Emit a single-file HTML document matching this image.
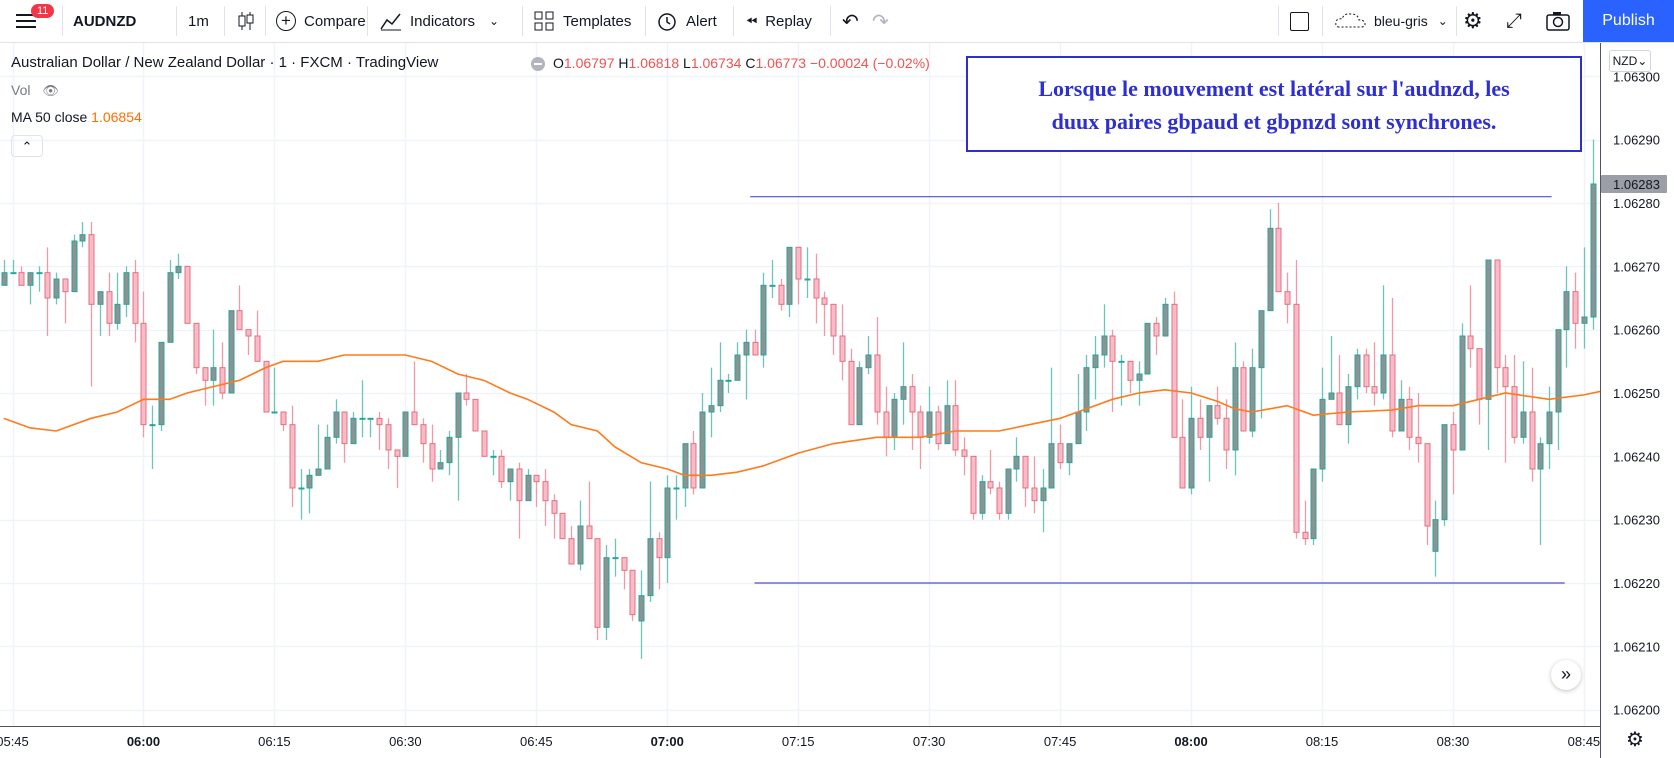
<!DOCTYPE html>
<html><head><meta charset="utf-8">
<style>
html,body{margin:0;padding:0;background:#fff;width:1674px;height:758px;overflow:hidden;font-family:"Liberation Sans",sans-serif;color:#131722}
#toolbar{position:absolute;left:0;top:0;width:1674px;height:42px;border-bottom:1px solid #e0e3eb;background:#fff}
.tb{position:absolute;top:0;height:42px;display:flex;align-items:center;font-size:15px;color:#131722}
.sep{position:absolute;top:6px;width:1px;height:30px;background:#e0e3eb}
#chart{position:absolute;left:0;top:0}
.leg{position:absolute;font-size:14px;white-space:nowrap}
#note{position:absolute;left:966px;top:56px;width:616px;height:96px;border:2px solid #2d2fd0;background:#fff;color:#2d2fd0;font-family:"Liberation Serif",serif;font-weight:bold;font-size:22px;text-align:center;line-height:33px;padding-top:14px;box-sizing:border-box}
</style></head><body>
<div id="toolbar">
  <div class="tb" style="left:16px">
    <svg width="22" height="18"><rect x="0" y="2" width="20" height="2" fill="#131722"/><rect x="0" y="8" width="20" height="2" fill="#131722"/><rect x="0" y="14" width="20" height="2" fill="#131722"/></svg>
  </div>
  <div style="position:absolute;left:31px;top:4px;background:#f23645;color:#fff;font-size:11px;border-radius:9px;padding:1px 6px">11</div>
  <div class="sep" style="left:62px"></div>
  <div class="tb" style="left:73px;font-weight:bold">AUDNZD</div>
  <div class="sep" style="left:176px"></div>
  <div class="tb" style="left:188px">1m</div>
  <div class="sep" style="left:224px"></div>
  <div class="tb" style="left:236px"><svg width="20" height="22"><line x1="6" y1="2" x2="6" y2="20" stroke="#131722"/><rect x="3" y="6" width="6" height="10" fill="#fff" stroke="#131722"/><line x1="14" y1="2" x2="14" y2="20" stroke="#131722"/><rect x="11" y="5" width="6" height="8" fill="#fff" stroke="#131722"/></svg></div>
  <div class="sep" style="left:265px"></div>
  <div class="tb" style="left:276px"><span style="display:inline-block;width:18px;height:18px;border:1.5px solid #131722;border-radius:50%;text-align:center;line-height:18px;font-size:17px;margin-right:8px">+</span>Compare</div>
  <div class="sep" style="left:367px"></div>
  <div class="tb" style="left:380px"><svg width="22" height="20" style="margin-right:8px"><polyline points="1,18 7,9 12,13 20,3" fill="none" stroke="#131722" stroke-width="1.5"/><line x1="1" y1="19" x2="21" y2="19" stroke="#131722"/></svg>Indicators<span style="margin-left:14px;font-size:12px">&#x2304;</span></div>
  <div class="sep" style="left:522px"></div>
  <div class="tb" style="left:534px"><svg width="20" height="20" style="margin-right:9px"><rect x="1" y="1" width="7" height="7" fill="none" stroke="#131722"/><rect x="12" y="1" width="7" height="7" fill="none" stroke="#131722"/><rect x="1" y="12" width="7" height="7" fill="none" stroke="#131722"/><rect x="12" y="12" width="7" height="7" fill="none" stroke="#131722"/></svg>Templates</div>
  <div class="sep" style="left:645px"></div>
  <div class="tb" style="left:656px"><svg width="22" height="22" style="margin-right:8px"><circle cx="11" cy="12" r="8" fill="none" stroke="#131722" stroke-width="1.5"/><polyline points="11,7 11,12 14,14" fill="none" stroke="#131722" stroke-width="1.5"/></svg>Alert</div>
  <div class="sep" style="left:733px"></div>
  <div class="tb" style="left:746px"><span style="font-size:14px;margin-right:8px">&#x23EA;&#xFE0E;</span>Replay</div>
  <div class="sep" style="left:830px"></div>
  <div class="tb" style="left:842px;font-size:20px">&#x21B6;</div>
  <div class="tb" style="left:872px;font-size:20px;color:#b2b5be">&#x21B7;</div>
  <div class="sep" style="left:1278px"></div>
  <div class="tb" style="left:1290px"><span style="display:inline-block;width:17px;height:17px;border:1.5px solid #131722;border-radius:2px"></span></div>
  <div class="sep" style="left:1322px"></div>
  <div class="tb" style="left:1334px;font-size:14px"><svg width="34" height="20" style="margin-right:6px"><path d="M5 16 Q1 16 2 11 Q3 7 8 8 Q10 2 17 3 Q24 3 25 9 Q31 9 31 13 Q31 16 27 16 Z" fill="none" stroke="#131722" stroke-dasharray="2 2"/></svg>bleu-gris<span style="margin-left:10px;font-size:12px">&#x2304;</span></div>
  <div class="sep" style="left:1456px"></div>
  <div class="tb" style="left:1463px;font-size:22px">&#x2699;</div>
  <div class="tb" style="left:1506px;font-size:20px">&#x2922;</div>
  <div class="tb" style="left:1546px"><svg width="24" height="20"><rect x="1" y="4" width="22" height="15" rx="2" fill="none" stroke="#131722" stroke-width="1.5"/><circle cx="12" cy="11" r="4.5" fill="none" stroke="#131722" stroke-width="1.5"/><rect x="7" y="1" width="8" height="3" fill="#131722"/></svg></div>
  <div style="position:absolute;left:1583px;top:0;width:91px;height:42px;background:#2962ff;color:#fff;font-size:16px;line-height:42px;text-align:center">Publish</div>
</div>

<svg id="chart" width="1674" height="758"></svg>

<div class="leg" style="left:11px;top:54px;font-size:15px">Australian Dollar / New Zealand Dollar · 1 · FXCM · TradingView</div>
<div style="position:absolute;left:531px;top:57px;width:14px;height:14px;border-radius:50%;background:#b2b5be"><div style="position:absolute;left:3px;top:6px;width:8px;height:2px;background:#fff"></div></div>
<div class="leg" style="left:553px;top:55px"><span>O</span><span style="color:#ef5350">1.06797</span> <span>H</span><span style="color:#ef5350">1.06818</span> <span>L</span><span style="color:#ef5350">1.06734</span> <span>C</span><span style="color:#ef5350">1.06773 −0.00024 (−0.02%)</span></div>
<div class="leg" style="left:11px;top:82px;color:#787b86">Vol <span style="margin-left:8px;font-size:13px">&#x1F441;&#xFE0E;</span></div>
<div class="leg" style="left:11px;top:109px">MA 50 close <span style="color:#ff6d00">1.06854</span></div>
<div style="position:absolute;left:11px;top:135px;width:30px;height:20px;border:1px solid #e0e3eb;border-radius:4px;text-align:center;font-size:13px;line-height:22px">&#x2303;</div>
<div id="note">Lorsque le mouvement est latéral sur l'audnzd, les<br>duux paires gbpaud et gbpnzd sont synchrones.</div>
<div style="position:absolute;left:1609px;top:50px;width:40px;height:20px;border:1px solid #d1d4dc;border-radius:3px;font-size:12px;line-height:20px;text-align:center;background:#fff">NZD&#x2304;</div>
<div style="position:absolute;left:1551px;top:660px;width:30px;height:30px;border-radius:50%;background:#fff;box-shadow:0 1px 4px rgba(0,0,0,.25);text-align:center;line-height:28px;font-size:18px">&#x00BB;</div>
<div style="position:absolute;left:1626px;top:727px;font-size:20px">&#x2699;</div>

<script>
const firstIndex = -1;
const opens  = [1.06267,1.06269,1.06269,1.06267,1.06269,1.06269,1.06265,1.06268,1.06266,1.06274,1.06275,1.06264,1.06266,1.06261,1.06264,1.06269,1.06261,1.06245,1.06245,1.06258,1.06269,1.06270,1.06261,1.06254,1.06252,1.06254,1.06250,1.06263,1.06260,1.06259,1.06255,1.06247,1.06247,1.06245,1.06235,1.06235,1.06237,1.06238,1.06243,1.06247,1.06242,1.06246,1.06246,1.06246,1.06245,1.06241,1.06240,1.06247,1.06245,1.06242,1.06238,1.06239,1.06243,1.06250,1.06249,1.06244,1.06240,1.06240,1.06236,1.06238,1.06233,1.06237,1.06236,1.06233,1.06231,1.06227,1.06223,1.06229,1.06227,1.06213,1.06224,1.06224,1.06222,1.06214,1.06218,1.06227,1.06224,1.06235,1.06235,1.06242,1.06235,1.06247,1.06248,1.06252,1.06252,1.06256,1.06258,1.06256,1.06267,1.06267,1.06264,1.06273,1.06268,1.06268,1.06265,1.06264,1.06259,1.06255,1.06245,1.06254,1.06256,1.06247,1.06243,1.06249,1.06251,1.06247,1.06243,1.06247,1.06242,1.06248,1.06241,1.06240,1.06231,1.06236,1.06235,1.06231,1.06238,1.06240,1.06235,1.06233,1.06235,1.06242,1.06239,1.06242,1.06247,1.06254,1.06256,1.06259,1.06255,1.06255,1.06252,1.06253,1.06261,1.06259,1.06264,1.06243,1.06235,1.06246,1.06243,1.06248,1.06246,1.06241,1.06254,1.06244,1.06254,1.06263,1.06276,1.06266,1.06264,1.06228,1.06227,1.06238,1.06249,1.06250,1.06245,1.06251,1.06256,1.06251,1.06250,1.06256,1.06244,1.06249,1.06243,1.06242,1.06225,1.06230,1.06245,1.06241,1.06259,1.06257,1.06249,1.06271,1.06254,1.06251,1.06243,1.06247,1.06238,1.06242,1.06247,1.06260,1.06266,1.06261,1.06262];
const highs  = [1.06271,1.06271,1.06270,1.06269,1.06270,1.06273,1.06269,1.06268,1.06275,1.06277,1.06277,1.06266,1.06269,1.06269,1.06270,1.06271,1.06266,1.06248,1.06258,1.06271,1.06272,1.06270,1.06261,1.06254,1.06260,1.06258,1.06263,1.06267,1.06260,1.06263,1.06255,1.06254,1.06247,1.06248,1.06238,1.06238,1.06245,1.06245,1.06249,1.06247,1.06247,1.06252,1.06246,1.06247,1.06246,1.06241,1.06247,1.06255,1.06246,1.06245,1.06241,1.06244,1.06250,1.06253,1.06249,1.06244,1.06241,1.06241,1.06238,1.06239,1.06238,1.06237,1.06238,1.06234,1.06231,1.06229,1.06233,1.06236,1.06227,1.06226,1.06227,1.06224,1.06222,1.06222,1.06236,1.06228,1.06237,1.06237,1.06242,1.06244,1.06250,1.06254,1.06258,1.06253,1.06258,1.06260,1.06260,1.06269,1.06271,1.06268,1.06273,1.06273,1.06273,1.06272,1.06266,1.06264,1.06264,1.06257,1.06255,1.06259,1.06262,1.06251,1.06250,1.06258,1.06253,1.06248,1.06251,1.06248,1.06252,1.06252,1.06243,1.06240,1.06237,1.06241,1.06236,1.06238,1.06243,1.06240,1.06240,1.06238,1.06254,1.06245,1.06242,1.06253,1.06256,1.06259,1.06264,1.06260,1.06256,1.06255,1.06255,1.06261,1.06262,1.06265,1.06266,1.06249,1.06251,1.06249,1.06248,1.06251,1.06249,1.06258,1.06255,1.06257,1.06263,1.06279,1.06280,1.06269,1.06271,1.06233,1.06238,1.06254,1.06259,1.06256,1.06253,1.06257,1.06257,1.06258,1.06267,1.06265,1.06252,1.06251,1.06250,1.06242,1.06233,1.06245,1.06247,1.06261,1.06267,1.06257,1.06271,1.06271,1.06256,1.06256,1.06255,1.06254,1.06243,1.06251,1.06260,1.06270,1.06269,1.06273,1.06290];
const lows   = [1.06267,1.06269,1.06267,1.06264,1.06266,1.06259,1.06264,1.06261,1.06266,1.06273,1.06251,1.06259,1.06259,1.06260,1.06262,1.06258,1.06243,1.06238,1.06244,1.06258,1.06268,1.06261,1.06253,1.06248,1.06248,1.06249,1.06250,1.06260,1.06256,1.06255,1.06247,1.06247,1.06244,1.06232,1.06230,1.06231,1.06237,1.06238,1.06242,1.06239,1.06242,1.06243,1.06243,1.06241,1.06238,1.06235,1.06240,1.06245,1.06239,1.06236,1.06238,1.06237,1.06233,1.06248,1.06244,1.06240,1.06237,1.06235,1.06233,1.06227,1.06233,1.06232,1.06229,1.06227,1.06227,1.06223,1.06222,1.06227,1.06211,1.06211,1.06221,1.06219,1.06214,1.06208,1.06217,1.06219,1.06220,1.06230,1.06232,1.06234,1.06235,1.06243,1.06247,1.06250,1.06252,1.06249,1.06256,1.06254,1.06265,1.06263,1.06262,1.06264,1.06265,1.06261,1.06259,1.06256,1.06252,1.06245,1.06245,1.06253,1.06245,1.06240,1.06241,1.06245,1.06241,1.06238,1.06242,1.06241,1.06242,1.06240,1.06237,1.06230,1.06230,1.06234,1.06230,1.06230,1.06236,1.06232,1.06231,1.06228,1.06235,1.06238,1.06237,1.06242,1.06244,1.06249,1.06254,1.06247,1.06248,1.06250,1.06248,1.06253,1.06256,1.06259,1.06243,1.06235,1.06234,1.06241,1.06236,1.06245,1.06238,1.06237,1.06244,1.06243,1.06246,1.06263,1.06266,1.06261,1.06227,1.06226,1.06226,1.06236,1.06249,1.06245,1.06242,1.06249,1.06250,1.06248,1.06249,1.06243,1.06244,1.06241,1.06239,1.06226,1.06221,1.06229,1.06234,1.06241,1.06254,1.06245,1.06241,1.06250,1.06239,1.06242,1.06242,1.06236,1.06226,1.06238,1.06241,1.06254,1.06257,1.06257,1.06260];
const closes = [1.06269,1.06269,1.06267,1.06269,1.06269,1.06265,1.06268,1.06266,1.06274,1.06275,1.06264,1.06266,1.06261,1.06264,1.06269,1.06261,1.06245,1.06245,1.06258,1.06269,1.06270,1.06261,1.06254,1.06252,1.06254,1.06250,1.06263,1.06260,1.06259,1.06255,1.06247,1.06247,1.06245,1.06235,1.06235,1.06237,1.06238,1.06243,1.06247,1.06242,1.06246,1.06246,1.06246,1.06245,1.06241,1.06240,1.06247,1.06245,1.06242,1.06238,1.06239,1.06243,1.06250,1.06249,1.06244,1.06240,1.06240,1.06236,1.06238,1.06233,1.06237,1.06236,1.06233,1.06231,1.06227,1.06223,1.06229,1.06227,1.06213,1.06224,1.06224,1.06222,1.06215,1.06218,1.06227,1.06224,1.06235,1.06235,1.06242,1.06235,1.06247,1.06248,1.06252,1.06252,1.06256,1.06258,1.06256,1.06267,1.06267,1.06264,1.06273,1.06268,1.06268,1.06265,1.06264,1.06259,1.06255,1.06245,1.06254,1.06256,1.06247,1.06243,1.06249,1.06251,1.06247,1.06243,1.06247,1.06242,1.06248,1.06241,1.06240,1.06231,1.06236,1.06235,1.06231,1.06238,1.06240,1.06235,1.06233,1.06235,1.06242,1.06239,1.06242,1.06247,1.06254,1.06256,1.06259,1.06255,1.06255,1.06252,1.06253,1.06261,1.06259,1.06264,1.06243,1.06235,1.06246,1.06243,1.06248,1.06246,1.06241,1.06254,1.06244,1.06254,1.06263,1.06276,1.06266,1.06264,1.06228,1.06227,1.06238,1.06249,1.06250,1.06245,1.06251,1.06256,1.06251,1.06250,1.06256,1.06244,1.06249,1.06243,1.06242,1.06229,1.06230,1.06245,1.06241,1.06259,1.06257,1.06249,1.06271,1.06254,1.06251,1.06243,1.06247,1.06238,1.06242,1.06247,1.06260,1.06266,1.06261,1.06262,1.06283];
const maIdx = [-1,2,5,9,12,15,18,20,23,26,29,31,35,38,42,45,48,51,54,57,59,62,64,67,69,72,75,77,80,83,86,90,94,99,104,108,113,120,123,126,129,132,135,138,140,142,146,149,153,158,161,165,168,171,176,180,182];
const maVals = [1.06246,1.062445,1.06244,1.06246,1.06247,1.06249,1.06249,1.0625,1.06251,1.06252,1.06254,1.06255,1.06255,1.06256,1.06256,1.06256,1.06255,1.06253,1.06252,1.0625,1.06249,1.06247,1.06245,1.06244,1.062415,1.06239,1.06238,1.06237,1.06237,1.062375,1.062385,1.062405,1.06242,1.06243,1.06243,1.06244,1.06244,1.06246,1.062475,1.06249,1.0625,1.062505,1.0625,1.062487,1.062475,1.06247,1.06248,1.062465,1.06247,1.062473,1.06248,1.06248,1.06249,1.0625,1.06249,1.062497,1.062503];
const priceTicks = [1.06300,1.06290,1.06280,1.06270,1.06260,1.06250,1.06240,1.06230,1.06220,1.06210,1.06200];
const timeTicks = ["05:45","06:00","06:15","06:30","06:45","07:00","07:15","07:30","07:45","08:00","08:15","08:30","08:45"];
const boldTicks = ["06:00","07:00","08:00"];
const lastPrice = 1.06283;
const rangeTop = [1.06281, 84.5, 176.3];
const rangeBottom = [1.06220, 85, 177.8];

const svg = document.getElementById('chart');
const NS = 'http://www.w3.org/2000/svg';
const PLOT_R = 1600, PLOT_T = 43, PLOT_B = 726;
function yOf(p){ return 203 + (1.0628 - p) * 633300; }
function xOf(i){ return 12.5 + 8.73 * i; }
function mk(tag, attrs){ const e = document.createElementNS(NS, tag); for (const k in attrs) e.setAttribute(k, attrs[k]); svg.appendChild(e); return e; }

const defs = mk('defs', {});
const cp = document.createElementNS(NS,'clipPath'); cp.setAttribute('id','plotclip');
const cr = document.createElementNS(NS,'rect'); cr.setAttribute('x',0); cr.setAttribute('y',PLOT_T); cr.setAttribute('width',PLOT_R); cr.setAttribute('height',PLOT_B-PLOT_T);
cp.appendChild(cr); defs.appendChild(cp);
const cp2 = document.createElementNS(NS,'clipPath'); cp2.setAttribute('id','axclip');
const cr2 = document.createElementNS(NS,'rect'); cr2.setAttribute('x',0); cr2.setAttribute('y',700); cr2.setAttribute('width',PLOT_R); cr2.setAttribute('height',58);
cp2.appendChild(cr2); defs.appendChild(cp2);

priceTicks.forEach(p => {
  const g = mk('line', {x1:0, x2:PLOT_R, y1:Math.round(yOf(p))+0.5, y2:Math.round(yOf(p))+0.5, stroke:'#f0f3fa', 'stroke-width':1.5});
  
  
  const t = mk('text', {x:1613, y:yOf(p)+5, 'font-size':13, fill:'#131722', 'font-family':'Liberation Sans, sans-serif'});
  t.textContent = p.toFixed(5);
  
  
});
timeTicks.forEach((lab, k) => {
  const x = xOf(k * 15);
  const g = mk('line', {x1:Math.round(x)+0.5, x2:Math.round(x)+0.5, y1:PLOT_T, y2:PLOT_B, stroke:'#f0f3fa', 'stroke-width':1.5});
  
  
  const t = mk('text', {x:x, y:746, 'font-size':13, 'text-anchor':'middle', fill:'#131722', 'font-weight': boldTicks.includes(lab) ? 'bold' : 'normal', 'font-family':'Liberation Sans, sans-serif', 'clip-path':'url(#axclip)'});
  t.textContent = lab;
  
  
});

const ax1 = mk('line', {x1:PLOT_R+0.5, x2:PLOT_R+0.5, y1:PLOT_T, y2:758, stroke:'#50535e', 'stroke-width':1});


const ax2 = mk('line', {x1:0, x2:PLOT_R, y1:PLOT_B+0.5, y2:PLOT_B+0.5, stroke:'#50535e', 'stroke-width':1});



const cg = mk('g', {'clip-path':'url(#plotclip)'});


for (let k = 0; k < opens.length; k++) {
  const i = firstIndex + k;
  const o = opens[k], h = highs[k], l = lows[k], c = closes[k];
  const up = c >= o;
  const x = Math.round(xOf(i));
  const w = document.createElementNS(NS, 'line');
  w.setAttribute('x1', x + 0.5); w.setAttribute('x2', x + 0.5);
  w.setAttribute('y1', yOf(h)); w.setAttribute('y2', yOf(l));
  w.setAttribute('stroke', up ? '#6cc5bb' : '#ef9aa6'); w.setAttribute('stroke-width', 1.3);
  
  
  cg.appendChild(w);
  const top = yOf(Math.max(o, c)), bot = yOf(Math.min(o, c));
  const b = document.createElementNS(NS, 'rect');
  b.setAttribute('x', x - 2); b.setAttribute('width', 5);
  b.setAttribute('y', top); b.setAttribute('height', Math.max(bot - top, 1));
  b.setAttribute('fill', up ? '#8f9193' : '#f8bbca');
  b.setAttribute('stroke', up ? '#26a69a' : '#e5707c'); b.setAttribute('stroke-width', 1);
  
  
  cg.appendChild(b);
}

const ma = document.createElementNS(NS, 'polyline');
ma.setAttribute('points', maIdx.map((i, k) => xOf(i) + ',' + yOf(maVals[k])).join(' '));
ma.setAttribute('fill', 'none'); ma.setAttribute('stroke', '#ff7a1a'); ma.setAttribute('stroke-width', 1.6);
ma.setAttribute('clip-path', 'url(#plotclip)');


svg.appendChild(ma);

const rt = mk('line', {x1:xOf(rangeTop[1]), x2:xOf(rangeTop[2]), y1:yOf(rangeTop[0]), y2:yOf(rangeTop[0]), stroke:'#4a50d8', 'stroke-width':1.2});


const rb = mk('line', {x1:xOf(rangeBottom[1]), x2:xOf(rangeBottom[2]), y1:yOf(rangeBottom[0]), y2:yOf(rangeBottom[0]), stroke:'#4a50d8', 'stroke-width':1.2});



const ly = yOf(lastPrice);
const lb = mk('rect', {x:1601, y:ly-9, width:66, height:18, fill:'#9b9ea6', rx:1});


const lt = mk('text', {x:1613, y:ly+5, 'font-size':13, fill:'#131722', 'font-family':'Liberation Sans, sans-serif'});
lt.textContent = lastPrice.toFixed(5);


</script>
</body></html>
